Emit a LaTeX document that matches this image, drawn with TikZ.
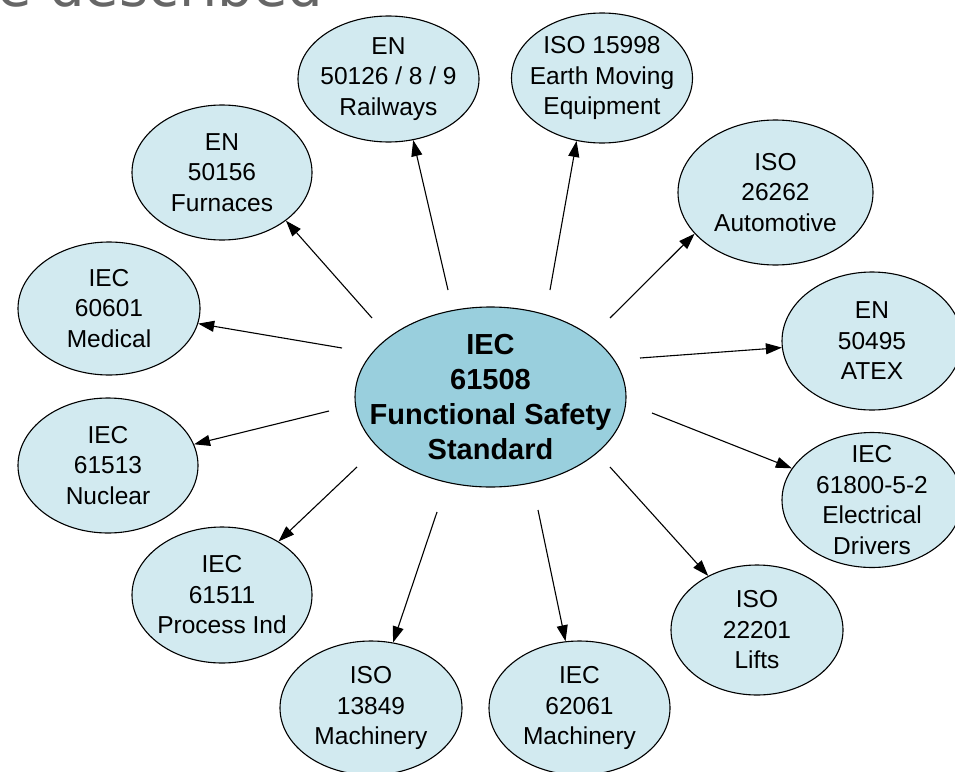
\documentclass[tikz,border=0pt]{standalone}
\usepackage{fontspec}
\setmainfont{Liberation Sans}
\newfontfamily\headingfont{DejaVu Sans}
\usetikzlibrary{shapes.geometric,arrows.meta}

\definecolor{stdfill}{RGB}{210,234,240}
\definecolor{corefill}{RGB}{153,207,221}
\definecolor{headgray}{RGB}{102,102,102}

\tikzset{
  stdnode/.style={ellipse, draw=black, line width=1.1pt, fill=stdfill,
    inner sep=0pt},
  corenode/.style={ellipse, draw=black, line width=1.1pt, fill=corefill,
    inner sep=0pt},
  stdtext/.style={align=center, inner sep=0pt,
    font=\fontsize{24.5}{30.5}\selectfont},
  coretext/.style={align=center, inner sep=0pt,
    font=\bfseries\fontsize{29}{35}\selectfont},
  link/.style={line width=1.1pt, -{Triangle[length=16pt,width=11pt]}}
}

\begin{document}
\begin{tikzpicture}[x=1pt,y=-1pt]
\useasboundingbox (0,0) rectangle (955,771);
\clip (0,0) rectangle (955,771);

% heading text, partly outside the frame
\node[anchor=base west, inner sep=0pt, text=headgray,
      font=\headingfont\fontsize{56}{62}\selectfont] (heading) at (-3,6) {e described};

% central standard
\node[corenode, minimum width=271pt, minimum height=180pt,
      label={[coretext]center:{IEC\\61508\\Functional Safety\\Standard}}]
      (core) at (490.5,397) {};

% sector standards
\node[stdnode, minimum width=181pt, minimum height=126pt,
      label={[stdtext]center:{EN\\50126 / 8 / 9\\Railways}}] (rail) at (388.5,79) {};
\node[stdnode, minimum width=181pt, minimum height=130pt,
      label={[stdtext]center:{ISO 15998\\Earth Moving\\Equipment}}] (earth) at (602,78) {};
\node[stdnode, minimum width=180pt, minimum height=135pt,
      label={[stdtext]center:{EN\\50156\\Furnaces}}] (furn) at (222,172.5) {};
\node[stdnode, minimum width=195pt, minimum height=145pt,
      label={[stdtext]center:{ISO\\26262\\Automotive}}] (auto) at (775.5,192.5) {};
\node[stdnode, minimum width=182pt, minimum height=133pt,
      label={[stdtext]center:{IEC\\60601\\Medical}}] (med) at (109,308.5) {};
\node[stdnode, minimum width=180pt, minimum height=138pt,
      label={[stdtext]center:{EN\\50495\\ATEX}}] (atex) at (872,341) {};
\node[stdnode, minimum width=180pt, minimum height=135pt,
      label={[stdtext]center:{IEC\\61513\\Nuclear}}] (nucl) at (108,465.5) {};
\node[stdnode, minimum width=180pt, minimum height=135pt,
      label={[stdtext]center:{IEC\\61800-5-2\\Electrical\\Drivers}}] (drive) at (872,500) {};
\node[stdnode, minimum width=180pt, minimum height=136pt,
      label={[stdtext]center:{IEC\\61511\\Process Ind}}] (proc) at (222,595) {};
\node[stdnode, minimum width=172pt, minimum height=130pt,
      label={[stdtext]center:{ISO\\22201\\Lifts}}] (lifts) at (757,630) {};
\node[stdnode, minimum width=182pt, minimum height=134pt,
      label={[stdtext]center:{ISO\\13849\\Machinery}}] (isomach) at (371,708) {};
\node[stdnode, minimum width=181pt, minimum height=134pt,
      label={[stdtext]center:{IEC\\62061\\Machinery}}] (iecmach) at (579.5,708) {};

% connector start points around the central standard
\coordinate (sRail)  at (448,290);
\coordinate (sEarth) at (550,290);
\coordinate (sFurn)  at (372,318);
\coordinate (sAuto)  at (610,318);
\coordinate (sMed)   at (342,348);
\coordinate (sAtex)  at (640,358);
\coordinate (sNucl)  at (329,411);
\coordinate (sDrive) at (652,413);
\coordinate (sProc)  at (357,467);
\coordinate (sLifts) at (610,467);
\coordinate (sIso)   at (437,512);
\coordinate (sIec)   at (538,510);

% connectors
\draw[link] (sRail)  -- (rail.-68.6);
\draw[link] (sEarth) -- (earth.-112.6);
\draw[link] (sFurn)  -- (furn.-37.3);
\draw[link] (sAuto)  -- (auto.-153.2);
\draw[link] (sMed)   -- (med);
\draw[link] (sAtex)  -- (atex);
\draw[link] (sNucl)  -- (nucl);
\draw[link] (sDrive) -- (drive);
\draw[link] (sProc)  -- (proc);
\draw[link] (sLifts) -- (lifts);
\draw[link] (sIso)   -- (isomach);
\draw[link] (sIec)   -- (iecmach);
\end{tikzpicture}
\end{document}
